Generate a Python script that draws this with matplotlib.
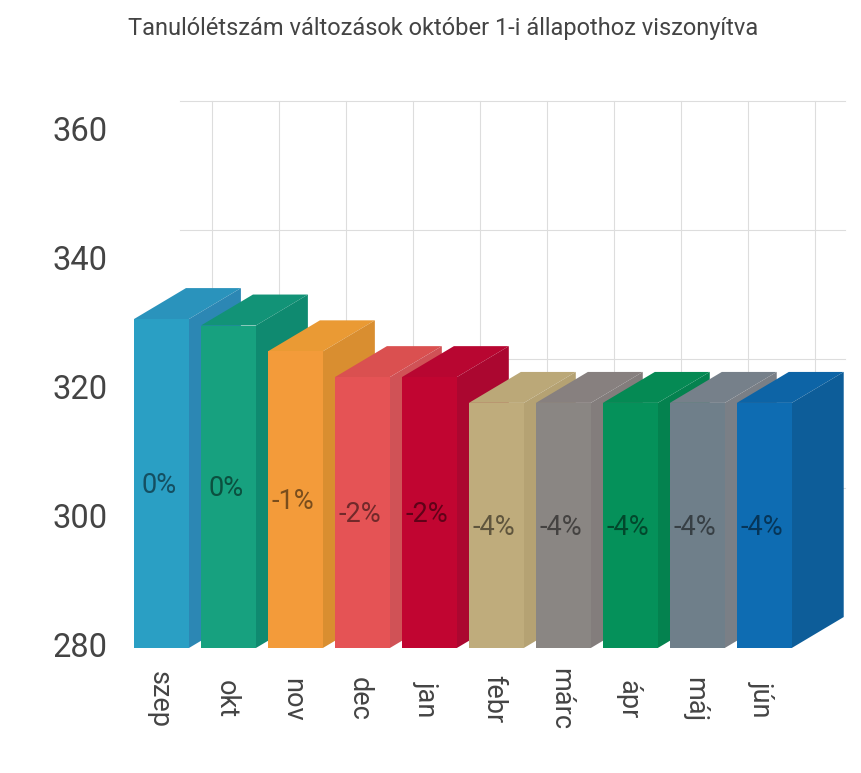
import matplotlib
matplotlib.use("Agg")
import matplotlib.pyplot as plt

plt.rcParams['font.family'] = ['Roboto', 'DejaVu Sans']

months = ["szep", "okt", "nov", "dec", "jan", "febr", "márc", "ápr", "máj", "jún"]
values = [331, 330, 326, 322, 322, 318, 318, 318, 318, 318]
percents = ["0%", "0%", "-1%", "-2%", "-2%", "-4%", "-4%", "-4%", "-4%", "-4%"]
front_colors = ["#2a9fc4", "#17a17f", "#f39b3a", "#e55355", "#c10531",
                "#bfac7c", "#8a8683", "#05915a", "#6f7f8a", "#0e6cb2"]
side_colors = ["#2c87b4", "#0f8a70", "#d98e30", "#d05256", "#ab0730",
               "#b5a273", "#837d7c", "#04824f", "#7a7f86", "#0d5d99"]
top_colors = ["#2a93bc", "#129377", "#ea9a34", "#da5050", "#b80631",
              "#bba878", "#87807f", "#058a54", "#76808a", "#0d64a6"]
y_ticks = [280, 300, 320, 340, 360]

# 3d look: how far the back wall is shifted from the front
depth_x = 0.776
depth_y = 4.8
bar_w = 0.82
base = 280

fig = plt.figure(figsize=(8.61, 7.73), dpi=100)
ax = fig.add_axes([134 / 861, (773 - 648) / 773, 714 / 861, 548 / 773])
ax.set_xlim(-0.41, 10.25)
ax.set_ylim(base, base + 548 / 6.45)

# back wall grid
for t in y_ticks[1:]:
    ax.plot([0.28, 10.2], [t + depth_y, t + depth_y], color="#dddddd", lw=0.8, zorder=1, clip_on=False)
for i in range(len(months)):
    ax.plot([i + 0.75, i + 0.75], [base + depth_y, 360 + depth_y], color="#dddddd", lw=0.8, zorder=1, clip_on=False)

# bars, left to right so each one covers the side of the previous
for i, v in enumerate(values):
    l = i - bar_w / 2
    r = i + bar_w / 2
    z = 2 + i
    ax.fill([l, r, r + depth_x, l + depth_x], [v, v, v + depth_y, v + depth_y],
            color=top_colors[i], lw=0, zorder=z)
    ax.fill([r, r + depth_x, r + depth_x, r], [base, base + depth_y, v + depth_y, v],
            color=side_colors[i], lw=0, zorder=z)
    ax.fill([l, r, r, l], [base, base, v, v], color=front_colors[i], lw=0, zorder=z)
    ax.text(i - 0.04, (base + v) / 2 - 0.3, percents[i], ha="center", va="center",
            fontsize=19.5, color="black", alpha=0.5, zorder=20)

for s in ax.spines.values():
    s.set_visible(False)

ax.set_yticks(y_ticks)
ax.set_yticklabels(y_ticks, fontsize=23.5, color="#444444", va="center")
ax.set_xticks([i - 0.04 for i in range(len(months))])
ax.set_xticklabels(months, rotation=-90, fontsize=19.5, color="#444444", va="center", ha="center")
ax.tick_params(axis="both", length=0)
ax.tick_params(axis="x", pad=37)
ax.tick_params(axis="y", pad=19)

fig.text(443 / 861, 1 - 29 / 773, "Tanulólétszám változások október 1-i állapothoz viszonyítva",
         ha="center", va="center", fontsize=17, color="#444444")

fig.savefig("out.png", dpi=100)
